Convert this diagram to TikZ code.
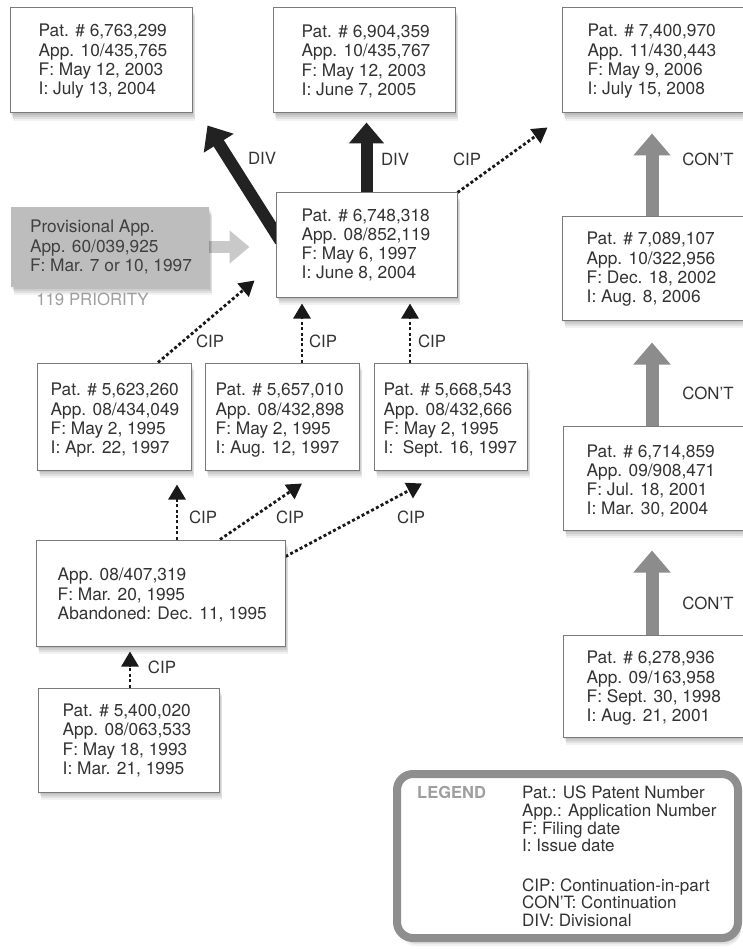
\documentclass[tikz,border=0pt]{standalone}
\usepackage{fontspec}
\setmainfont{TeX Gyre Heros}
\usetikzlibrary{arrows.meta,shadows,calc}
\pgfdeclarelayer{bg}
\pgfsetlayers{bg,main}
\definecolor{txtc}{HTML}{333333}
\definecolor{boxline}{HTML}{7A7A7A}
\definecolor{provfill}{HTML}{BDBDBD}
\definecolor{provarr}{HTML}{C9C9C9}
\definecolor{contgray}{HTML}{8C8C8C}
\definecolor{divblack}{HTML}{222222}
\definecolor{legline}{HTML}{8E8E8E}
\definecolor{prio}{HTML}{9E9E9E}
\begin{document}
\begin{tikzpicture}[x=1pt,y=-1pt,
  softshadow/.style={
    general shadow={fill=black,opacity=0.08,shadow xshift=1pt,shadow yshift=-2pt},
    general shadow={fill=black,opacity=0.08,shadow xshift=2pt,shadow yshift=-4pt},
    general shadow={fill=black,opacity=0.07,shadow xshift=3pt,shadow yshift=-6pt},
    general shadow={fill=black,opacity=0.05,shadow xshift=3pt,shadow yshift=-8pt}},
  box/.style={draw=boxline,line width=1pt,fill=white,softshadow,inner sep=0pt},
  provbox/.style={draw=none,fill=provfill,softshadow,inner sep=0pt},
  btxt/.style={align=left,inner sep=0pt,text=txtc,font=\fontsize{17.3pt}{19.3pt}\selectfont},
  lab/.style={inner sep=0pt,text=txtc,font=\fontsize{16.8pt}{19pt}\selectfont},
  divarrow/.style={line width=12pt,draw=divblack,-{Triangle[length=21pt,width=34pt]}},
  contarrow/.style={line width=13pt,draw=contgray,-{Triangle[length=22pt,width=36pt]}},
  provarrow/.style={line width=12pt,draw=provarr,-{Triangle[length=20pt,width=32pt]}},
  ciparrow/.style={line width=2.8pt,draw=black!90,dash pattern=on 3pt off 2.4pt,-{Triangle[length=15pt,width=17pt]}}
]
\begin{pgfonlayer}{bg}
\fill[white] (0,0) rectangle (742,949);
\end{pgfonlayer}
\useasboundingbox (0,0) rectangle (742,949);

% ---------- boxes ----------
\node[box,minimum width=182pt,minimum height=105pt] (A) at (101,60.5) {};
\node[btxt,anchor=west] (At) at ([shift={(29,1)}]A.west) {Pat. \# 6,763,299\\App. 10/435,765\\F: May 12, 2003\\I: July 13, 2004};

\node[box,minimum width=182pt,minimum height=105pt] (B) at (364,60.5) {};
\node[btxt,anchor=west] (Bt) at ([shift={(29,1)}]B.west) {Pat. \# 6,904,359\\App. 10/435,767\\F: May 12, 2003\\I: June 7, 2005};

\node[box,minimum width=200pt,minimum height=105pt] (C) at (662,60.5) {};
\node[btxt,anchor=west] (Ct) at ([shift={(26,1)}]C.west) {Pat. \# 7,400,970\\App. 11/430,443\\F: May 9, 2006\\I: July 15, 2008};

\node[box,minimum width=181pt,minimum height=104pt] (M) at (366.5,245) {};
\node[btxt,anchor=west] (Mt) at ([shift={(26,0)}]M.west) {Pat. \# 6,748,318\\App. 08/852,119\\F: May 6, 1997\\I: June 8, 2004};

\node[provbox,minimum width=198pt,minimum height=80pt] (P) at (110,247) {};
\node[btxt,anchor=west,text=black!75] (Pt) at ([shift={(19,0)}]P.west) {Provisional App.\\App. 60/039,925\\F: Mar. 7 or 10, 1997};
\node[lab,text=prio] (prior) at (92.5,299) {119 PRIORITY};

\node[box,minimum width=200pt,minimum height=103pt] (D) at (662,268.5) {};
\node[btxt,anchor=west] (Dt) at ([shift={(25,1)}]D.west) {Pat. \# 7,089,107\\App. 10/322,956\\F: Dec. 18, 2002\\I: Aug. 8, 2006};

\node[box,minimum width=200pt,minimum height=104pt] (E) at (663,478) {};
\node[btxt,anchor=west] (Et) at ([shift={(24,3)}]E.west) {Pat. \# 6,714,859\\App. 09/908,471\\F: Jul. 18, 2001\\I: Mar. 30, 2004};

\node[box,minimum width=200pt,minimum height=102pt] (F) at (663,686) {};
\node[btxt,anchor=west] (Ft) at ([shift={(24,2.5)}]F.west) {Pat. \# 6,278,936\\App. 09/163,958\\F: Sept. 30, 1998\\I: Aug. 21, 2001};

\node[box,minimum width=154pt,minimum height=107pt] (G1) at (114,416.5) {};
\node[btxt,anchor=west] (G1t) at ([shift={(14,4)}]G1.west) {Pat. \# 5,623,260\\App. 08/434,049\\F: May 2, 1995\\I: Apr. 22, 1997};

\node[box,minimum width=154pt,minimum height=107pt] (G2) at (282,416.5) {};
\node[btxt,anchor=west] (G2t) at ([shift={(11,4)}]G2.west) {Pat. \# 5,657,010\\App. 08/432,898\\F: May 2, 1995\\I: Aug. 12, 1997};

\node[box,minimum width=153pt,minimum height=107pt] (G3) at (450.5,416.5) {};
\node[btxt,anchor=west] (G3t) at ([shift={(10,4)}]G3.west) {Pat. \# 5,668,543\\App. 08/432,666\\F: May 2, 1995\\I:\ \ Sept. 16, 1997};

\node[box,minimum width=249pt,minimum height=106pt] (H) at (160.5,593) {};
\node[btxt,anchor=west] (Ht) at ([shift={(22,2)}]H.west) {App. 08/407,319\\F: Mar. 20, 1995\\Abandoned: Dec. 11, 1995};

\node[box,minimum width=181pt,minimum height=104pt] (I) at (128.5,740) {};
\node[btxt,anchor=west] (It) at ([shift={(25,0.5)}]I.west) {Pat. \# 5,400,020\\App. 08/063,533\\F: May 18, 1993\\I: Mar. 21, 1995};

% ---------- legend ----------
\node[draw=legline,line width=8pt,rounded corners=16pt,fill=white,softshadow,
      minimum width=341pt,minimum height=164pt,inner sep=0pt] (L) at (567.5,856) {};
\node[inner sep=0pt,anchor=west,text=prio,font=\fontsize{16.5pt}{19pt}\selectfont\bfseries] (LT) at (417,792) {LEGEND};
\node[btxt,anchor=north west,font=\fontsize{17pt}{17.6pt}\selectfont] (Lt) at (522,786)
  {Pat.: US Patent Number\\App.: Application Number\\F: Filing date\\I: Issue date\\[22pt]CIP: Continuation-in-part\\CON'T: Continuation\\DIV: Divisional};

% ---------- connectors ----------
\begin{pgfonlayer}{bg}
% DIV
\draw[divarrow] ([shift={(5,-4)}]M.west) -- ([shift={(15,12)}]A.south east);
\draw[divarrow] ([shift={(0,6)}]M.north) -- ([shift={(2.5,9)}]B.south);
% CIP to C
\draw[ciparrow] (M.north east) -- ([shift={(-14,14)}]C.south west);
% provisional priority
\coordinate (pm) at (P.east -| M.west);
\draw[provarrow] ([shift={(-4,0)}]P.east) -- ([shift={(-26,0)}]pm);
% G row to M
\draw[ciparrow] ([shift={(44,0)}]G1.north) -- ([shift={(-21,-17)}]M.south west);
\coordinate (g2s) at ([shift={(20,0)}]G2.north);
\coordinate (g2t) at (g2s |- M.south);
\draw[ciparrow] (g2s) -- ([shift={(0,6)}]g2t);
\coordinate (g3s) at ([shift={(-40.5,0)}]G3.north);
\coordinate (g3t) at (g3s |- M.south);
\draw[ciparrow] (g3s) -- ([shift={(0,6)}]g3t);
% H to G row
\coordinate (h1s) at ([shift={(16.5,0)}]H.north);
\coordinate (h1t) at (h1s |- G1.south);
\draw[ciparrow] (h1s) -- ([shift={(0,14)}]h1t);
\draw[ciparrow] ([shift={(59.5,0)}]H.north) -- ([shift={(20,13)}]G2.south);
\draw[ciparrow] ([shift={(0,17)}]H.north east) -- ([shift={(-28.5,13)}]G3.south);
% I to H
\coordinate (i1s) at ([shift={(1.5,0)}]I.north);
\coordinate (i1t) at (i1s |- H.south);
\draw[ciparrow] (i1s) -- ([shift={(0,5)}]i1t);
% CON'T
\coordinate (d1) at ([shift={(-10,0)}]D.north);
\coordinate (d1t) at (d1 |- C.south);
\draw[contarrow] ([shift={(0,4)}]d1) -- ([shift={(0,20)}]d1t);
\coordinate (e1) at ([shift={(-11,0)}]E.north);
\coordinate (e1t) at (e1 |- D.south);
\draw[contarrow] ([shift={(0,4)}]e1) -- ([shift={(0,22)}]e1t);
\coordinate (f1) at ([shift={(-11,0)}]F.north);
\coordinate (f1t) at (f1 |- E.south);
\draw[contarrow] ([shift={(0,4)}]f1) -- ([shift={(0,20)}]f1t);
\end{pgfonlayer}

% ---------- labels ----------
\node[lab] (ldiv1) at (262,158) {DIV};
\node[lab] (ldiv2) at (395,159) {DIV};
\node[lab] (lcip0) at (467,159) {CIP};
\node[lab] (lcon1) at (708,159) {CON'T};
\node[lab] (lcon2) at (708,393) {CON'T};
\node[lab] (lcon3) at (708,603) {CON'T};
\node[lab] (lcip1) at (210,341) {CIP};
\node[lab] (lcip2) at (323,341) {CIP};
\node[lab] (lcip3) at (432,341) {CIP};
\node[lab] (lcip4) at (203,517) {CIP};
\node[lab] (lcip5) at (290,517) {CIP};
\node[lab] (lcip6) at (411,517) {CIP};
\node[lab] (lcip7) at (162,667) {CIP};
\end{tikzpicture}
\end{document}
